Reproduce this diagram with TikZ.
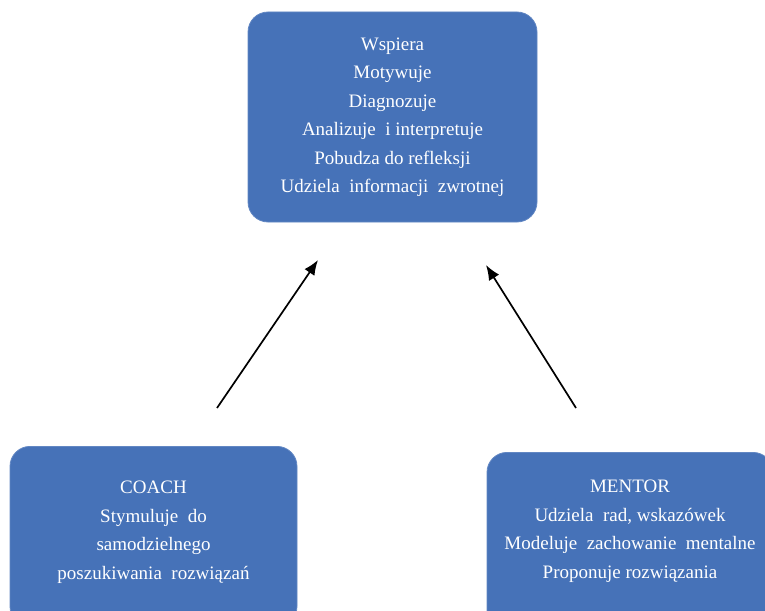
\documentclass[tikz,border=0pt]{standalone}
\usepackage{fontspec}
\setmainfont{Liberation Serif}
\usetikzlibrary{arrows.meta}
\definecolor{boxblue}{RGB}{70,114,184}
\begin{document}
\begin{tikzpicture}[x=1pt,y=-1pt,
  rolebox/.style={draw=boxblue!85!white, line width=0.8pt, fill=boxblue, rounded corners=20pt,
    inner sep=0pt},
  roletext/.style={text=white, align=center, inner sep=0pt,
    font=\fontsize{19}{28.5}\selectfont},
  link/.style={-{Latex[length=15pt,width=12pt]}, line width=1.7pt}]
  \useasboundingbox (0,0) rectangle (765,610);
  \clip (0,0) rectangle (765,610);

  % central box: common activities
  \node[rolebox, minimum width=289pt, minimum height=210pt] (common) at (392.5,117) {};
  \node[roletext] (commontext) at (392.5,117)
    {Wspiera\\ Motywuje\\ Diagnozuje\\ Analizuje\ \ i interpretuje\\
     Pobudza do refleksji\\ Udziela\ \ informacji\ \ zwrotnej};

  % coach box (bottom left)
  \node[rolebox, minimum width=287pt, minimum height=180pt, anchor=north] (coach) at (153.5,446) {};
  \node[roletext] (coachtext) at (153.5,532)
    {COACH\\ Stymuluje\ \ do\\ samodzielnego\\ poszukiwania\ \ rozwiązań};

  % mentor box (bottom right)
  \node[rolebox, minimum width=286pt, minimum height=180pt, anchor=north] (mentor) at (630,452) {};
  \node[roletext] (mentortext) at (630,531)
    {MENTOR\\ Udziela\ \ rad, wskazówek\\ Modeluje\ \ zachowanie\ \ mentalne\\ Proponuje rozwiązania};

  % arrows pointing up to the central box
  \coordinate (coachstart) at (217,408);
  \coordinate (coachend) at (318,260);
  \coordinate (mentorstart) at (576,408);
  \coordinate (mentorend) at (486,265);
  \draw[link] (coachstart) -- (coachend);
  \draw[link] (mentorstart) -- (mentorend);
\end{tikzpicture}
\end{document}
